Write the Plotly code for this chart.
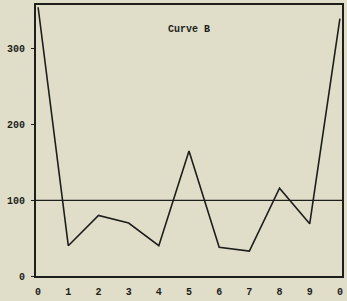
import plotly.graph_objects as go

x_pos = list(range(11))
x_labels = ["0", "1", "2", "3", "4", "5", "6", "7", "8", "9", "0"]
values = [355, 40, 80, 70, 40, 165, 38, 33, 116, 69, 340]
ref_level = 100
y_ticks = [0, 100, 200, 300]
title_text = "Curve B"

bg = "#e0dec9"
ink = "#1e1e1c"
font = dict(family="Liberation Mono, DejaVu Sans Mono, monospace", size=10, color=ink)

fig = go.Figure()
fig.add_trace(go.Scatter(x=x_pos, y=values, mode="lines",
                         line=dict(color=ink, width=1.6), showlegend=False,
                         hoverinfo="skip"))
fig.add_shape(type="line", xref="paper", x0=0, x1=1, yref="y", y0=ref_level, y1=ref_level,
              line=dict(color=ink, width=1.3))
fig.add_annotation(x=5, y=326, xref="x", yref="y", text="<b>" + title_text + "</b>",
                   showarrow=False, font=font)

fig.update_layout(
    width=347, height=301,
    margin=dict(l=36, r=3, t=5, b=22),
    paper_bgcolor=bg, plot_bgcolor=bg,
    font=font,
    xaxis=dict(range=[-0.07, 10.07], tickmode="array", tickvals=x_pos,
               ticktext=["<b>" + t + "</b>" for t in x_labels],
               showgrid=False, zeroline=False, showline=True, mirror=True,
               linecolor=ink, linewidth=2, ticks="", ticklabelstandoff=5),
    yaxis=dict(range=[0, 358], tickmode="array", tickvals=y_ticks,
               ticktext=["<b>" + str(v) + "</b>" for v in y_ticks],
               showgrid=False, zeroline=False, showline=True, mirror=True,
               linecolor=ink, linewidth=2, ticks="outside", ticklen=3,
               tickcolor=ink, ticklabelstandoff=4),
)

fig.write_html("out.html", config={"displayModeBar": False},
               post_script="document.body.style.margin='0';document.body.style.overflow='hidden';")
